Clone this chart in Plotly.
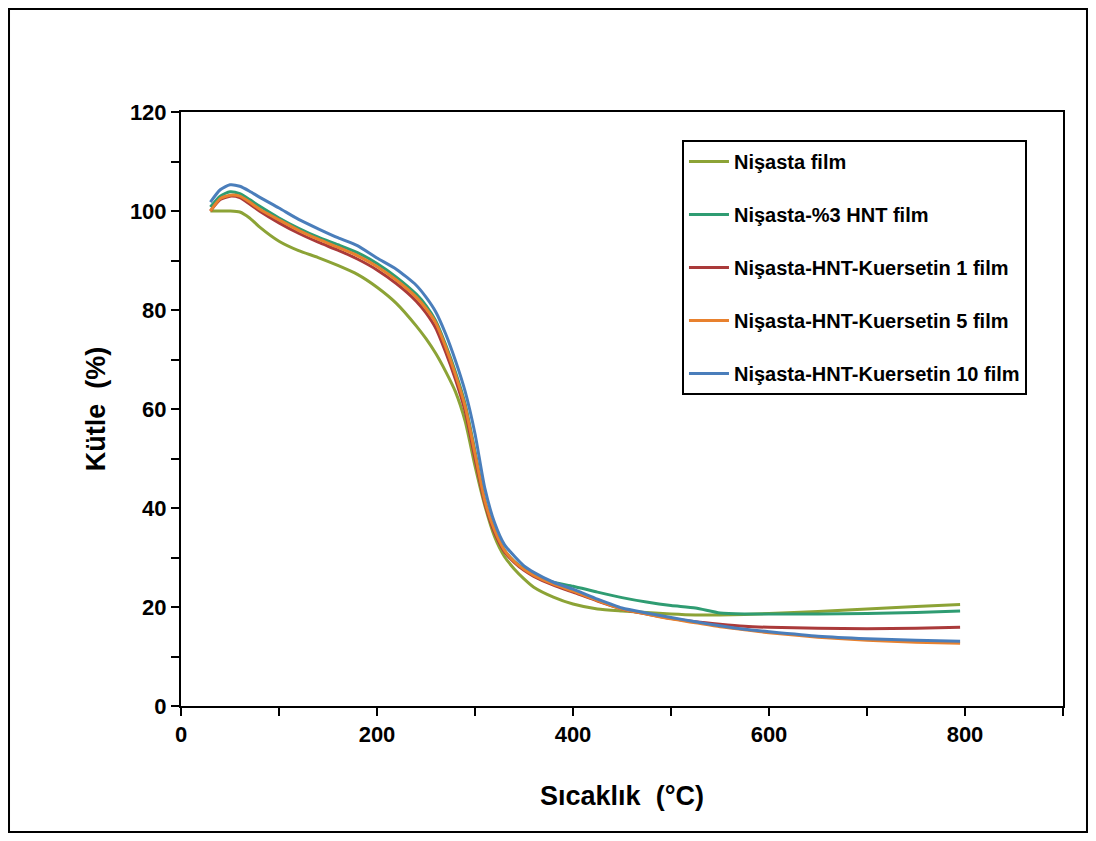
import plotly.graph_objects as go

# Temperature grid (°C)
temps = [30, 40, 50, 60, 70, 80, 100, 120, 140, 160, 180, 200, 220, 240, 250, 260,
         270, 280, 290, 300, 310, 320, 330, 340, 350, 360, 380, 400, 425, 450, 475,
         500, 525, 550, 575, 600, 650, 700, 750, 795]

# Mass (%) per film
nisasta = [100, 100, 100, 99.8, 98.6, 96.8, 93.9, 92.0, 90.6, 89.0, 87.2, 84.6, 81.3,
           76.8, 74.2, 71.2, 67.6, 63.5, 57.5, 48.5, 40.5, 34.2, 30.2, 27.7, 25.7, 24.0,
           22.0, 20.6, 19.6, 19.2, 18.9, 18.6, 18.4, 18.4, 18.5, 18.7, 19.1, 19.6, 20.1, 20.5]
hnt3 = [100.8, 103.0, 103.9, 103.5, 102.3, 101.0, 98.6, 96.5, 94.7, 93.2, 91.6, 89.4,
        86.6, 83.2, 80.9, 77.8, 73.0, 67.5, 61.0, 51.5, 41.5, 35.5, 31.5, 29.2, 27.7,
        26.6, 25.0, 24.2, 23.0, 21.9, 21.0, 20.3, 19.8, 18.8, 18.6, 18.6, 18.6, 18.7,
        18.9, 19.2]
kuer1 = [100, 102.3, 103.0, 102.7, 101.4, 100.0, 97.6, 95.5, 93.7, 92.1, 90.3, 88.1,
         85.3, 81.8, 79.4, 76.3, 71.5, 66.0, 59.5, 50.0, 41.0, 35.0, 31.2, 29.0, 27.4,
         26.2, 24.4, 23.0, 21.2, 19.6, 18.6, 17.7, 17.0, 16.5, 16.1, 15.9, 15.7, 15.6,
         15.7, 15.9]
kuer5 = [100, 102.5, 103.2, 103.0, 101.8, 100.4, 98.2, 96.1, 94.3, 92.7, 91.0, 88.8,
         86.0, 82.6, 80.3, 77.4, 72.6, 67.0, 60.5, 51.0, 41.5, 35.5, 31.5, 29.2, 27.6,
         26.4, 24.6, 23.2, 21.3, 19.6, 18.6, 17.6, 16.8, 16.0, 15.4, 14.8, 13.9, 13.3,
         12.9, 12.7]
kuer10 = [101.8, 104.3, 105.3, 105.0, 104.0, 102.8, 100.6, 98.3, 96.4, 94.6, 93.0, 90.5,
          88.2, 85.0, 82.6, 79.6, 75.2, 69.8, 63.5, 55.0, 44.0, 37.0, 32.6, 30.3, 28.3,
          27.0, 25.0, 23.6, 21.6, 19.8, 18.8, 17.9, 17.0, 16.2, 15.5, 15.0, 14.1, 13.6,
          13.3, 13.1]

names = ["Nişasta film", "Nişasta-%3 HNT film", "Nişasta-HNT-Kuersetin 1 film",
         "Nişasta-HNT-Kuersetin 5 film", "Nişasta-HNT-Kuersetin 10 film"]
series = [nisasta, hnt3, kuer1, kuer5, kuer10]
colors = ["#8ca336", "#2f9c72", "#aa3a3a", "#e8812e", "#4a7ebb"]

fig = go.Figure()
for i, (name, ys, c) in enumerate(zip(names, series, colors)):
    fig.add_trace(go.Scatter(x=temps, y=ys, name=name, mode="lines",
                             line=dict(color=c, width=3, shape="spline", smoothing=0.6),
                             legendgroup=str(i)))

FONT = "Liberation Sans, Arial"
axis_font = dict(family=FONT, size=22, color="black", weight="bold")
tick_style = dict(ticks="outside", ticklen=8, tickwidth=1.5, tickcolor="black")

fig.update_xaxes(range=[0, 900], tickvals=[0, 200, 400, 600, 800], showgrid=False,
                 zeroline=False, showline=True, linecolor="black", linewidth=2, mirror=True,
                 minor=dict(tickvals=[100, 300, 500, 700, 900], **tick_style),
                 tickfont=axis_font, **tick_style,
                 title=dict(text="Sıcaklık&nbsp;&nbsp;(°C)", standoff=40,
                            font=dict(family=FONT, size=27, color="black", weight="bold")))
fig.update_yaxes(range=[0, 120], tickvals=[0, 20, 40, 60, 80, 100, 120], showgrid=False,
                 zeroline=False, showline=True, linecolor="black", linewidth=2, mirror=True,
                 minor=dict(tickvals=[10, 30, 50, 70, 90, 110], **tick_style),
                 tickfont=axis_font, **tick_style,
                 title=dict(text="Kütle&nbsp;&nbsp;(%)", standoff=16,
                            font=dict(family=FONT, size=27, color="black", weight="bold")))

# page body has an 8px margin, so the figure is sized/placed to compensate
fig.update_layout(
    width=1080, height=825,
    margin=dict(l=173, r=25, t=104, b=127),
    paper_bgcolor="white", plot_bgcolor="white",
    font=dict(family=FONT, color="black"),
    showlegend=True,
    legend=dict(x=0.568, y=0.953, xanchor="left", yanchor="top",
                bordercolor="black", borderwidth=2, bgcolor="white",
                font=dict(family=FONT, size=20, color="black", weight="bold"),
                tracegroupgap=24, itemwidth=40),
    shapes=[dict(type="rect", xref="paper", yref="paper",
                 x0=-0.195, x1=1.0272, y0=-0.2121, y1=1.1734,
                 line=dict(color="black", width=2))],
)
fig.write_html("out.html")
